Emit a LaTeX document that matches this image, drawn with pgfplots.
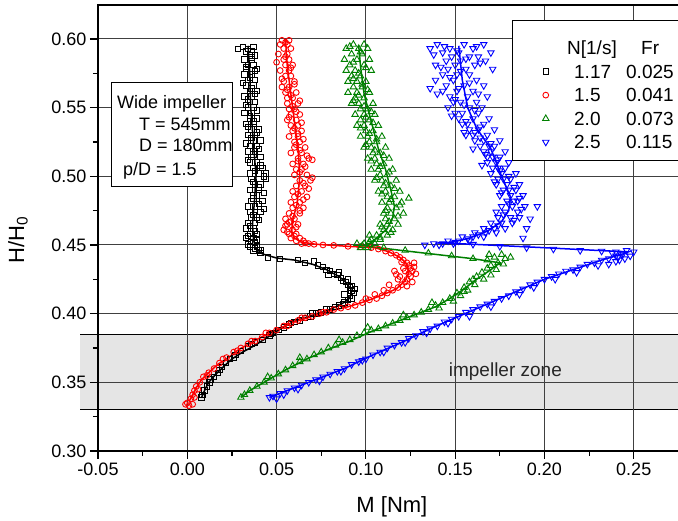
\documentclass[border=0pt]{standalone}
\usepackage{fontspec}
\setmainfont{Liberation Sans}
\usepackage{pgfplots}
\pgfplotsset{compat=1.18}

\definecolor{dgreen}{RGB}{0,128,0}

\begin{document}
\begin{tikzpicture}
\begin{axis}[
    name=ax,
    set layers,
    scale only axis,
    width=582pt, height=446pt,
    xmin=-0.05, xmax=0.2759,
    ymin=0.30, ymax=0.6247,
    xtick={-0.05,0,0.05,0.10,0.15,0.20,0.25},
    xticklabels={-0.05,0.00,0.05,0.10,0.15,0.20,0.25},
    ytick={0.30,0.35,0.40,0.45,0.50,0.55,0.60},
    yticklabels={0.30,0.35,0.40,0.45,0.50,0.55,0.60},
    minor x tick num=1, minor y tick num=1,
    xtick pos=left, ytick pos=left,
    tick align=outside,
    major tick length=8pt, minor tick length=5pt,
    tick style={line width=1.2pt, black},
    axis line style={line width=1.6pt},
    grid=major,
    major grid style={line width=1pt, black!75},
    ticklabel style={font=\fontsize{18}{20}\selectfont},
    xlabel={M [Nm]},
    ylabel={H/H\textsubscript{0}},
    xlabel style={at={(axis description cs:0.505,-0.1256)}, anchor=center, font=\fontsize{22}{24}\selectfont},
    ylabel style={at={(axis description cs:-0.1375,0.473)}, anchor=center, font=\fontsize{22}{24}\selectfont},
    legend cell align=left,
    legend image code/.code={\draw[#1] plot coordinates {(0pt,0pt)}; \path (-10pt,0pt) (10pt,0pt);},
    legend style={at={(0.7113,0.9664)}, anchor=north west, draw=black, line width=0.8pt,
        fill=white, inner xsep=23pt, inner ysep=7pt,
        font=\fontsize{19}{21}\selectfont,
        nodes={inner xsep=3pt, inner ysep=3.5pt},
        /tikz/every odd column/.append style={column sep=15pt}},
]

% impeller zone band
\begin{pgfonlayer}{axis background}
\fill[black!10] (axis cs:-0.06,0.33) rectangle (axis cs:0.28,0.385);
\draw[line width=1pt, black] (axis cs:-0.06,0.33) -- (axis cs:0.28,0.33);
\draw[line width=1pt, black] (axis cs:-0.06,0.385) -- (axis cs:0.28,0.385);
\end{pgfonlayer}

\addlegendimage{empty legend}
\addlegendentry{\hspace*{-7pt}\rule[-2pt]{0pt}{26pt}\makebox[74pt][l]{N[1/s]}Fr}

% N = 1.17
\addplot[only marks, black, mark=square, mark size=2.7pt, mark options={line width=0.9pt}] coordinates {
(0.031,0.594)(0.037,0.594)(0.036,0.591)(0.033,0.591)(0.035,0.588)(0.038,0.588)(0.032,0.585)(0.036,0.585)
(0.037,0.581)(0.034,0.581)(0.033,0.578)(0.039,0.578)(0.036,0.574)(0.032,0.574)(0.034,0.570)(0.038,0.570)
(0.037,0.566)(0.033,0.566)(0.035,0.562)(0.039,0.562)(0.032,0.558)(0.036,0.558)(0.038,0.554)(0.035,0.554)
(0.034,0.550)(0.037,0.550)(0.036,0.546)(0.032,0.546)(0.039,0.542)(0.035,0.542)(0.033,0.538)(0.037,0.538)
(0.036,0.534)(0.040,0.534)(0.034,0.530)(0.038,0.530)(0.037,0.526)(0.041,0.526)(0.035,0.522)(0.039,0.522)
(0.038,0.518)(0.034,0.518)(0.036,0.514)(0.041,0.514)(0.039,0.510)(0.035,0.510)(0.037,0.506)(0.042,0.506)
(0.040,0.502)(0.035,0.502)(0.036,0.498)(0.044,0.498)(0.038,0.494)(0.041,0.494)(0.035,0.490)(0.040,0.490)
(0.039,0.486)(0.037,0.486)(0.036,0.482)(0.042,0.482)(0.038,0.478)(0.034,0.478)(0.035,0.474)(0.041,0.474)
(0.039,0.470)(0.036,0.470)(0.034,0.466)(0.038,0.466)(0.037,0.462)(0.033,0.462)(0.035,0.458)(0.039,0.458)
(0.033,0.455)(0.037,0.455)(0.036,0.452)(0.038,0.452)(0.035,0.449)(0.039,0.449)(0.037,0.446)(0.040,0.446)
(0.034,0.5925)(0.036,0.5865)(0.033,0.5795)(0.038,0.5765)(0.035,0.5720)(0.031,0.5680)(0.036,0.5640)(0.038,0.5600)
(0.034,0.5560)(0.033,0.5520)(0.039,0.5480)(0.035,0.5440)(0.037,0.5400)(0.034,0.5360)(0.039,0.5320)(0.036,0.5280)
(0.033,0.5240)(0.040,0.5200)(0.037,0.5160)(0.034,0.5120)(0.041,0.5080)(0.038,0.5040)(0.043,0.5000)(0.037,0.4960)
(0.040,0.4920)(0.043,0.4880)(0.037,0.4840)(0.040,0.4800)(0.043,0.4760)(0.037,0.4720)(0.040,0.4680)(0.035,0.4640)
(0.038,0.4600)(0.034,0.4565)(0.039,0.4535)(0.034,0.4505)(0.038,0.4475)(0.041,0.4465)(0.0285,0.5925)(0.044,0.502)
(0.041,0.444)(0.045,0.441)(0.052,0.440)(0.062,0.439)(0.066,0.437)(0.071,0.438)(0.073,0.435)(0.076,0.434)
(0.078,0.432)(0.079,0.428)(0.080,0.431)(0.082,0.429)(0.084,0.428)(0.085,0.430)(0.086,0.426)(0.087,0.424)
(0.089,0.423)(0.090,0.425)(0.090,0.421)(0.091,0.419)(0.092,0.420)(0.092,0.417)(0.093,0.415)(0.094,0.418)
(0.088,0.414)(0.091,0.413)(0.092,0.411)(0.090,0.410)(0.088,0.408)(0.087,0.407)(0.085,0.406)(0.083,0.405)
(0.080,0.403)(0.078,0.403)(0.075,0.401)(0.072,0.400)(0.069,0.398)(0.066,0.397)(0.063,0.395)(0.060,0.394)
(0.057,0.392)(0.054,0.390)(0.051,0.388)(0.048,0.386)(0.046,0.384)(0.042,0.381)(0.038,0.379)(0.034,0.376)
(0.030,0.373)(0.027,0.370)(0.024,0.367)(0.0215,0.364)(0.0195,0.361)(0.017,0.357)(0.015,0.354)(0.0125,0.350)
(0.011,0.347)(0.0095,0.344)(0.0085,0.341)(0.008,0.339)(0.013,0.352)(0.018,0.359)(0.026,0.368)(0.036,0.378)
(0.047,0.385)(0.058,0.393)(0.070,0.400)
};
\addlegendentry{\rule[-2pt]{0pt}{17pt}\makebox[52pt][l]{1.17}\makebox[70pt][l]{0.025}}

% N = 1.5
\addplot[only marks, red, mark=o, mark size=2.9pt, mark options={line width=0.9pt}] coordinates {
(0.053,0.599)(0.057,0.599)(0.056,0.596)(0.052,0.596)(0.054,0.593)(0.058,0.593)(0.051,0.589)(0.056,0.589)
(0.057,0.585)(0.054,0.585)(0.055,0.581)(0.059,0.581)(0.052,0.577)(0.057,0.577)(0.058,0.573)(0.055,0.573)
(0.054,0.569)(0.060,0.569)(0.057,0.565)(0.053,0.565)(0.055,0.561)(0.061,0.561)(0.059,0.557)(0.056,0.557)
(0.056,0.553)(0.062,0.553)(0.060,0.549)(0.057,0.549)(0.058,0.545)(0.063,0.545)(0.056,0.541)(0.061,0.541)
(0.062,0.537)(0.058,0.537)(0.059,0.533)(0.064,0.533)(0.057,0.529)(0.062,0.529)(0.063,0.525)(0.060,0.525)
(0.060,0.521)(0.066,0.521)(0.058,0.517)(0.064,0.517)(0.062,0.513)(0.068,0.513)(0.059,0.509)(0.065,0.509)
(0.064,0.505)(0.061,0.505)(0.060,0.501)(0.067,0.501)(0.063,0.497)(0.069,0.497)(0.061,0.493)(0.066,0.493)
(0.064,0.489)(0.059,0.489)(0.060,0.485)(0.067,0.485)(0.063,0.481)(0.058,0.481)(0.059,0.477)(0.065,0.477)
(0.057,0.473)(0.063,0.473)(0.060,0.469)(0.055,0.469)(0.056,0.465)(0.062,0.465)(0.059,0.461)(0.054,0.461)
(0.057,0.458)(0.061,0.458)(0.058,0.455)(0.063,0.455)(0.061,0.453)(0.065,0.453)(0.064,0.451)(0.068,0.451)
(0.055,0.5975)(0.050,0.5830)(0.055,0.5870)(0.058,0.5790)(0.053,0.5710)(0.060,0.5670)(0.056,0.5630)(0.058,0.5590)
(0.063,0.5550)(0.059,0.5510)(0.061,0.5470)(0.057,0.5430)(0.064,0.5390)(0.060,0.5350)(0.062,0.5310)(0.065,0.5270)
(0.061,0.5230)(0.063,0.5190)(0.067,0.5150)(0.070,0.5120)(0.062,0.5110)(0.066,0.5070)(0.063,0.5030)(0.070,0.4990)
(0.065,0.4950)(0.068,0.4910)(0.062,0.4870)(0.065,0.4830)(0.061,0.4790)(0.063,0.4750)(0.059,0.4710)(0.058,0.4670)
(0.061,0.4630)(0.056,0.4595)(0.060,0.4565)(0.066,0.4515)(0.057,0.4665)(0.055,0.4640)
(0.071,0.4505)(0.076,0.450)(0.082,0.4497)(0.090,0.449)(0.097,0.4487)(0.103,0.448)(0.107,0.447)(0.111,0.4455)
(0.114,0.444)(0.117,0.4425)(0.119,0.441)(0.121,0.439)(0.123,0.437)(0.124,0.435)(0.125,0.433)(0.126,0.431)
(0.124,0.429)(0.125,0.427)(0.123,0.425)(0.122,0.423)(0.120,0.421)(0.118,0.419)(0.115,0.417)(0.112,0.415)
(0.109,0.413)(0.106,0.411)(0.102,0.410)(0.098,0.408)(0.094,0.406)(0.090,0.405)(0.086,0.404)
(0.127,0.437)(0.121,0.433)(0.128,0.429)(0.119,0.427)(0.116,0.431)(0.126,0.423)(0.113,0.421)(0.118,0.425)
(0.120,0.4375)(0.127,0.434)(0.122,0.431)(0.117,0.4285)(0.123,0.420)(0.110,0.417)(0.105,0.414)(0.100,0.411)
(0.082,0.403)(0.078,0.401)(0.074,0.400)(0.070,0.398)(0.066,0.397)(0.062,0.395)(0.058,0.393)(0.054,0.391)
(0.050,0.388)(0.046,0.386)(0.042,0.383)(0.038,0.380)(0.034,0.378)(0.030,0.375)(0.026,0.372)(0.022,0.368)
(0.018,0.364)(0.015,0.360)(0.012,0.357)(0.009,0.354)(0.007,0.350)(0.005,0.347)(0.004,0.344)(0.003,0.341)
(0.002,0.338)(0.000,0.335)(0.001,0.333)(0.003,0.334)(-0.001,0.334)(0.004,0.339)(0.006,0.345)(0.011,0.355)
(0.020,0.367)(0.028,0.373)(0.036,0.380)(0.044,0.386)(0.056,0.391)(0.064,0.397)(0.076,0.401)
};
\addlegendentry{\rule[-2pt]{0pt}{17pt}\makebox[52pt][l]{1.5}\makebox[70pt][l]{0.041}}

% N = 2.0
\addplot[only marks, dgreen, mark=triangle, mark size=3.7pt, mark options={line width=0.9pt}] coordinates {
(0.093,0.596)(0.099,0.596)(0.089,0.593)(0.096,0.593)(0.101,0.593)(0.092,0.589)(0.098,0.589)(0.088,0.585)
(0.095,0.585)(0.102,0.585)(0.091,0.581)(0.099,0.581)(0.094,0.577)(0.089,0.577)(0.103,0.577)(0.097,0.573)
(0.092,0.573)(0.090,0.569)(0.100,0.569)(0.095,0.569)(0.098,0.565)(0.093,0.565)(0.095,0.561)(0.102,0.561)
(0.090,0.561)(0.099,0.557)(0.094,0.557)(0.096,0.553)(0.104,0.553)(0.092,0.553)(0.101,0.549)(0.097,0.549)
(0.094,0.545)(0.105,0.545)(0.099,0.545)(0.102,0.541)(0.097,0.541)(0.099,0.537)(0.107,0.537)(0.095,0.537)
(0.104,0.533)(0.100,0.533)(0.101,0.529)(0.109,0.529)(0.097,0.529)(0.106,0.525)(0.102,0.525)(0.103,0.521)
(0.111,0.521)(0.099,0.521)(0.108,0.517)(0.104,0.517)(0.105,0.513)(0.113,0.513)(0.101,0.513)(0.110,0.509)
(0.106,0.509)(0.107,0.505)(0.115,0.505)(0.103,0.505)(0.112,0.501)(0.108,0.501)(0.109,0.497)(0.117,0.497)
(0.105,0.497)(0.114,0.493)(0.110,0.493)(0.111,0.489)(0.119,0.489)(0.107,0.489)(0.116,0.485)(0.112,0.485)
(0.124,0.484)(0.113,0.481)(0.120,0.481)(0.109,0.481)(0.117,0.477)(0.112,0.477)(0.114,0.473)(0.121,0.473)
(0.110,0.473)(0.116,0.469)(0.111,0.469)(0.112,0.465)(0.118,0.465)(0.108,0.465)(0.110,0.461)(0.115,0.461)
(0.106,0.457)(0.112,0.457)(0.102,0.457)(0.103,0.454)(0.108,0.454)(0.099,0.451)(0.105,0.451)(0.095,0.451)
(0.101,0.448)(0.097,0.448)
(0.091,0.5945)(0.097,0.5905)(0.093,0.5830)(0.100,0.5790)(0.096,0.5750)(0.093,0.5710)(0.098,0.5670)(0.101,0.5630)
(0.096,0.5590)(0.093,0.5550)(0.099,0.5510)(0.103,0.5470)(0.100,0.5430)(0.104,0.5390)(0.097,0.5350)(0.102,0.5310)
(0.106,0.5270)(0.100,0.5230)(0.105,0.5190)(0.110,0.5150)(0.103,0.5110)(0.108,0.5070)(0.113,0.5030)(0.106,0.4990)
(0.111,0.4950)(0.116,0.4910)(0.109,0.4870)(0.114,0.4830)(0.119,0.4790)(0.111,0.4750)(0.118,0.4710)(0.113,0.4670)
(0.109,0.4630)(0.114,0.4590)(0.108,0.4555)(0.102,0.4525)(0.098,0.4495)
(0.110,0.448)(0.122,0.446)(0.135,0.444)(0.148,0.442)(0.160,0.440)(0.168,0.439)(0.172,0.441)(0.176,0.443)
(0.178,0.440)(0.181,0.441)(0.169,0.443)(0.174,0.437)(0.170,0.435)(0.177,0.436)(0.168,0.433)(0.173,0.432)
(0.165,0.430)(0.170,0.428)(0.162,0.427)(0.166,0.425)(0.160,0.425)(0.158,0.423)(0.161,0.421)(0.155,0.419)
(0.157,0.417)(0.155,0.416)(0.151,0.415)(0.153,0.413)(0.147,0.411)(0.149,0.409)(0.143,0.408)(0.137,0.408)
(0.139,0.406)(0.141,0.404)(0.135,0.403)(0.131,0.401)(0.127,0.399)(0.121,0.399)(0.123,0.397)(0.119,0.395)
(0.115,0.393)(0.111,0.391)(0.107,0.389)(0.101,0.390)(0.103,0.388)(0.099,0.386)(0.095,0.384)(0.091,0.381)
(0.085,0.381)(0.087,0.379)(0.083,0.377)(0.079,0.375)(0.075,0.372)(0.071,0.370)(0.067,0.367)(0.063,0.368)
(0.063,0.365)(0.059,0.362)(0.055,0.359)(0.051,0.356)(0.047,0.353)(0.045,0.354)(0.043,0.350)(0.039,0.347)
(0.035,0.344)(0.032,0.341)(0.030,0.339)
};
\addlegendentry{\rule[-2pt]{0pt}{17pt}\makebox[52pt][l]{2.0}\makebox[70pt][l]{0.073}}

% N = 2.5
\addplot[only marks, blue, mark=triangle, mark size=3.7pt, mark options={line width=0.9pt, rotate=180}] coordinates {
(0.140,0.596)(0.155,0.596)(0.166,0.596)(0.147,0.593)(0.160,0.593)(0.136,0.593)(0.152,0.590)(0.143,0.590)
(0.170,0.590)(0.158,0.587)(0.148,0.587)(0.163,0.587)(0.145,0.584)(0.153,0.584)(0.167,0.584)(0.150,0.581)
(0.139,0.581)(0.161,0.581)(0.156,0.578)(0.146,0.578)(0.171,0.578)(0.143,0.574)(0.158,0.574)(0.151,0.574)
(0.149,0.570)(0.162,0.570)(0.139,0.570)(0.155,0.566)(0.145,0.566)(0.166,0.566)(0.151,0.562)(0.160,0.562)
(0.143,0.562)(0.147,0.558)(0.157,0.558)(0.168,0.558)(0.153,0.554)(0.162,0.554)(0.149,0.554)(0.158,0.550)
(0.146,0.550)(0.165,0.550)(0.154,0.546)(0.163,0.546)(0.150,0.546)(0.160,0.542)(0.152,0.542)(0.169,0.542)
(0.157,0.538)(0.166,0.538)(0.154,0.538)(0.163,0.534)(0.158,0.534)(0.172,0.534)(0.160,0.530)(0.168,0.530)
(0.156,0.530)(0.166,0.526)(0.161,0.526)(0.175,0.526)(0.164,0.522)(0.172,0.522)(0.169,0.522)(0.170,0.518)
(0.166,0.518)(0.178,0.518)(0.168,0.514)(0.175,0.514)(0.171,0.514)(0.173,0.510)(0.168,0.510)(0.180,0.510)
(0.171,0.506)(0.178,0.506)(0.174,0.506)(0.176,0.502)(0.170,0.502)(0.184,0.502)(0.174,0.498)(0.181,0.498)
(0.177,0.498)(0.179,0.494)(0.173,0.494)(0.186,0.494)(0.177,0.490)(0.184,0.490)(0.180,0.490)(0.181,0.486)
(0.175,0.486)(0.188,0.486)(0.179,0.482)(0.185,0.482)(0.183,0.482)(0.182,0.478)(0.176,0.478)(0.189,0.478)
(0.178,0.474)(0.185,0.474)(0.173,0.474)(0.181,0.470)(0.174,0.470)(0.186,0.470)(0.176,0.466)(0.170,0.466)
(0.182,0.466)(0.172,0.462)(0.166,0.462)(0.178,0.462)(0.167,0.459)(0.161,0.459)(0.173,0.459)(0.160,0.456)
(0.154,0.456)(0.166,0.456)(0.152,0.453)(0.146,0.453)(0.158,0.453)(0.143,0.451)(0.138,0.451)(0.149,0.451)
(0.136,0.564)(0.133,0.450)(0.190,0.462)(0.196,0.478)
(0.144,0.5945)(0.162,0.5945)(0.151,0.5915)(0.138,0.5885)(0.156,0.5855)(0.164,0.5825)(0.142,0.5795)(0.153,0.5765)
(0.147,0.5720)(0.158,0.5680)(0.152,0.5640)(0.140,0.5600)(0.163,0.5600)(0.150,0.5560)(0.155,0.5520)(0.161,0.5480)
(0.148,0.5440)(0.156,0.5400)(0.164,0.5360)(0.161,0.5320)(0.155,0.5320)(0.164,0.5280)(0.170,0.5240)(0.160,0.5200)
(0.167,0.5160)(0.174,0.5120)(0.165,0.5080)(0.175,0.5040)(0.180,0.5000)(0.172,0.4960)(0.183,0.4920)(0.176,0.4880)
(0.186,0.4840)(0.180,0.4800)(0.187,0.4760)(0.177,0.4720)(0.183,0.4680)(0.174,0.4640)(0.169,0.4605)(0.163,0.4575)
(0.157,0.4545)(0.150,0.4520)(0.141,0.4500)(0.192,0.4690)(0.188,0.4550)
(0.160,0.4505)(0.175,0.449)(0.190,0.448)(0.205,0.447)(0.220,0.446)(0.232,0.4455)(0.240,0.445)
(0.246,0.446)(0.250,0.445)(0.243,0.443)(0.248,0.442)(0.238,0.444)(0.245,0.440)(0.240,0.438)(0.236,0.436)
(0.241,0.441)
(0.244,0.4435)(0.240,0.442)(0.236,0.440)(0.232,0.439)(0.228,0.437)(0.224,0.436)(0.220,0.434)(0.216,0.432)
(0.212,0.431)(0.208,0.429)(0.204,0.427)(0.200,0.425)(0.196,0.423)(0.192,0.421)(0.188,0.418)(0.184,0.416)
(0.180,0.413)(0.176,0.411)(0.172,0.409)(0.168,0.407)(0.164,0.405)(0.160,0.403)(0.156,0.401)(0.152,0.398)
(0.148,0.396)(0.144,0.394)(0.140,0.391)(0.136,0.389)(0.132,0.387)(0.128,0.384)(0.124,0.382)(0.120,0.379)
(0.116,0.377)(0.112,0.375)(0.108,0.372)(0.104,0.370)(0.100,0.367)(0.096,0.365)(0.092,0.363)(0.088,0.360)
(0.084,0.358)(0.080,0.356)(0.076,0.354)(0.072,0.352)(0.068,0.350)(0.064,0.348)(0.060,0.346)(0.056,0.344)
(0.052,0.342)(0.048,0.340)(0.046,0.339)
(0.242,0.439)(0.230,0.435)(0.218,0.430)(0.206,0.425)(0.194,0.419)(0.186,0.414)(0.170,0.405)(0.158,0.398)
(0.146,0.393)(0.134,0.386)(0.122,0.379)(0.110,0.372)(0.098,0.366)(0.086,0.358)(0.074,0.351)(0.062,0.345)
(0.054,0.341)(0.050,0.338)
};
\addlegendentry{\rule[-2pt]{0pt}{17pt}\makebox[52pt][l]{2.5}\makebox[70pt][l]{0.115}}

% fitted curves
\addplot[forget plot, black, line width=1.5pt] coordinates {
(0.034,0.595)(0.035,0.575)(0.0355,0.55)(0.037,0.525)(0.0385,0.50)(0.0375,0.48)(0.0365,0.465)(0.037,0.455)
(0.038,0.448)(0.042,0.4435)(0.050,0.4405)(0.060,0.439)(0.070,0.436)(0.078,0.432)(0.085,0.427)(0.089,0.4225)
(0.0915,0.418)(0.092,0.414)(0.090,0.410)(0.085,0.406)(0.078,0.402)(0.068,0.398)(0.059,0.394)(0.051,0.388)
(0.044,0.382)(0.038,0.377)(0.031,0.372)(0.025,0.367)(0.020,0.361)(0.016,0.356)(0.012,0.350)(0.010,0.345)
(0.008,0.339)
};
\addplot[forget plot, red, line width=1.5pt] coordinates {
(0.055,0.600)(0.056,0.58)(0.058,0.56)(0.060,0.54)(0.062,0.52)(0.063,0.50)(0.0615,0.48)(0.059,0.468)
(0.0585,0.46)(0.060,0.455)(0.064,0.452)(0.072,0.4505)(0.090,0.449)(0.105,0.448)(0.113,0.445)(0.119,0.441)
(0.123,0.436)(0.124,0.430)(0.122,0.424)(0.117,0.418)(0.110,0.414)(0.100,0.409)(0.090,0.405)(0.080,0.402)
(0.070,0.398)(0.060,0.394)(0.051,0.389)(0.043,0.384)(0.036,0.379)(0.029,0.374)(0.023,0.368)(0.017,0.363)
(0.012,0.357)(0.008,0.352)(0.005,0.346)(0.003,0.341)(0.001,0.336)
};
\addplot[forget plot, dgreen, line width=1.5pt] coordinates {
(0.096,0.595)(0.097,0.58)(0.099,0.56)(0.101,0.55)(0.104,0.535)(0.107,0.52)(0.111,0.505)(0.114,0.49)
(0.116,0.478)(0.115,0.470)(0.112,0.462)(0.107,0.456)(0.102,0.451)(0.101,0.449)(0.120,0.446)(0.140,0.443)
(0.160,0.440)(0.175,0.437)(0.170,0.432)(0.162,0.425)(0.155,0.418)(0.147,0.411)(0.139,0.405)(0.127,0.399)
(0.115,0.393)(0.103,0.387)(0.091,0.380)(0.079,0.374)(0.067,0.367)(0.055,0.359)(0.043,0.350)(0.035,0.344)
(0.030,0.339)
};
\addplot[forget plot, blue, line width=1.5pt] coordinates {
(0.152,0.595)(0.154,0.57)(0.157,0.55)(0.162,0.535)(0.170,0.52)(0.176,0.50)(0.181,0.485)(0.180,0.475)
(0.176,0.467)(0.168,0.460)(0.158,0.455)(0.148,0.452)(0.140,0.4515)(0.160,0.4505)(0.200,0.448)(0.230,0.446)
(0.247,0.445)(0.244,0.4435)(0.232,0.439)(0.216,0.432)(0.200,0.425)(0.184,0.416)(0.168,0.407)(0.152,0.398)
(0.136,0.389)(0.120,0.379)(0.104,0.370)(0.088,0.360)(0.072,0.352)(0.056,0.344)(0.046,0.339)
};

\node[anchor=base west, font=\fontsize{19}{21}\selectfont, text=black!85] at (axis cs:0.1445,0.354) {impeller zone};

% parameter box
\draw[line width=0.8pt, fill=white] (axis description cs:0.0223,0.8274) rectangle (axis description cs:0.2302,0.5942);
\node[anchor=base west, inner sep=0pt, font=\fontsize{18}{20}\selectfont] at (axis description cs:0.0326,0.769) {Wide impeller};
\node[anchor=base west, inner sep=0pt, font=\fontsize{18}{20}\selectfont] at (axis description cs:0.0704,0.7197) {T = 545mm};
\node[anchor=base west, inner sep=0pt, font=\fontsize{18}{20}\selectfont] at (axis description cs:0.0704,0.6726) {D = 180mm};
\node[anchor=base west, inner sep=0pt, font=\fontsize{18}{20}\selectfont] at (axis description cs:0.0430,0.6188) {p/D = 1.5};
\end{axis}
\pgfresetboundingbox
\path ([shift={(-98pt,-70pt)}]ax.south west) rectangle ([shift={(580pt,451pt)}]ax.south west);
\end{tikzpicture}
\end{document}
